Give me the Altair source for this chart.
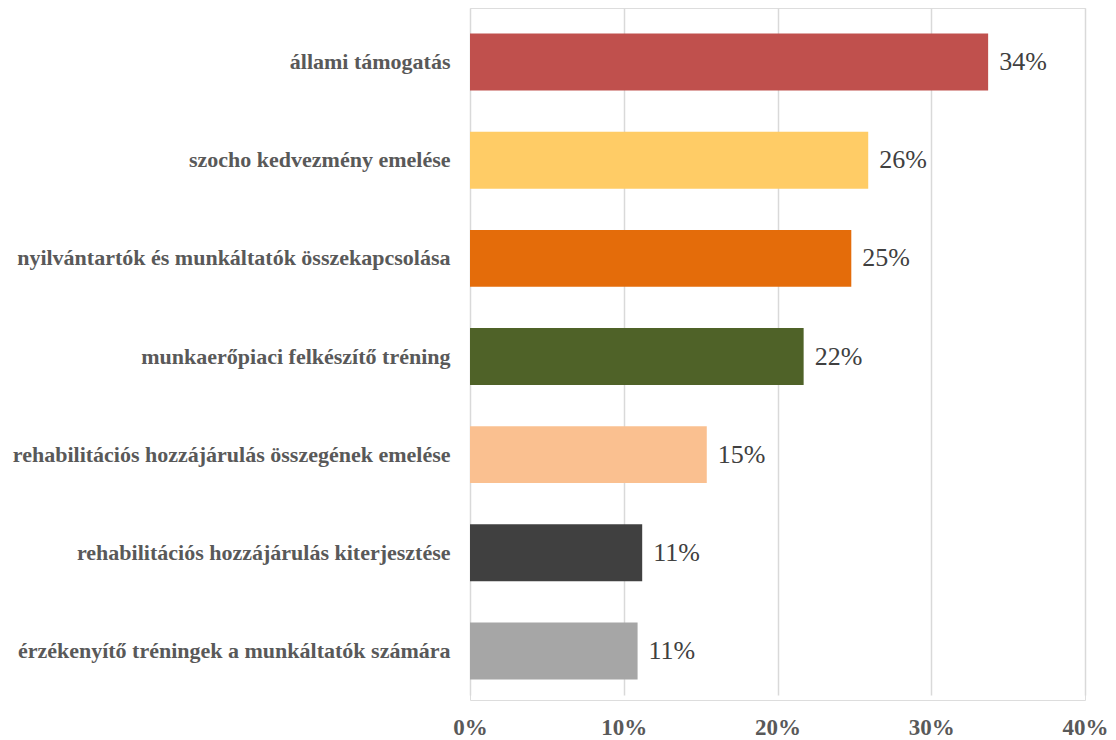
import altair as alt
import pandas as pd

categories = [
    "állami támogatás",
    "szocho kedvezmény emelése",
    "nyilvántartók és munkáltatók összekapcsolása",
    "munkaerőpiaci felkészítő tréning",
    "rehabilitációs hozzájárulás összegének emelése",
    "rehabilitációs hozzájárulás kiterjesztése",
    "érzékenyítő tréningek a munkáltatók számára",
]
values = [0.337, 0.259, 0.248, 0.217, 0.154, 0.112, 0.109]
value_labels = ["34%", "26%", "25%", "22%", "15%", "11%", "11%"]
colors = ["#C0504D", "#FFCC66", "#E46C0A", "#4F6228", "#FAC090", "#404040", "#A6A6A6"]

df = pd.DataFrame({"cat": categories, "val": values, "lab": value_labels, "col": colors})

font = "Liberation Serif"

y = alt.Y(
    "cat:N",
    sort=categories,
    title=None,
    scale=alt.Scale(paddingInner=0.42, paddingOuter=0.21, range=[5, 692]),
    axis=alt.Axis(
        domain=False,
        ticks=False,
        labelFont=font,
        labelFontSize=22,
        labelFontWeight="bold",
        labelColor="#595959",
        labelPadding=20,
        labelLimit=600,
    ),
)
x = alt.X(
    "val:Q",
    title=None,
    scale=alt.Scale(domain=[0, 0.4], nice=False),
    axis=alt.Axis(
        values=[0, 0.1, 0.2, 0.3, 0.4],
        format=".0%",
        domain=False,
        ticks=False,
        grid=True,
        gridColor="#D9D9D9",
        gridWidth=1.5,
        labelFlush=False,
        labelFont=font,
        labelFontSize=23,
        labelFontWeight="bold",
        labelColor="#595959",
        labelPadding=16,
    ),
)

bars = alt.Chart(df).mark_bar().encode(
    x=x, y=y, color=alt.Color("col:N", scale=None, legend=None)
)
text = alt.Chart(df).mark_text(
    align="left", baseline="middle", dx=11, font=font, fontSize=26, color="#404040"
).encode(x="val:Q", y=alt.Y("cat:N", sort=categories), text="lab:N")

chart = (
    alt.layer(bars, text)
    .properties(
        width=615,
        height=692,
        autosize=alt.AutoSizeParams(type="none"),
        padding={"left": 462, "top": 0, "right": 23, "bottom": 40},
    )
    .configure_view(strokeWidth=0)
    .configure(background="white")
)

chart.save("out.html", embed_options={"renderer": "svg", "actions": False})
